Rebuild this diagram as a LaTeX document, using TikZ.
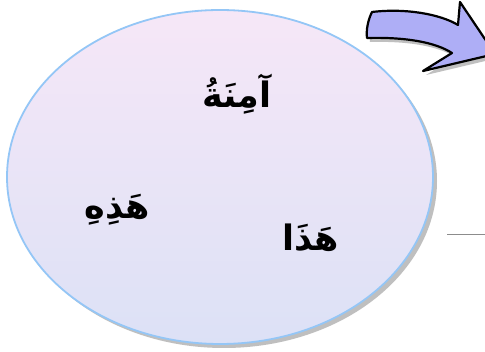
\documentclass[tikz,border=0pt]{standalone}
\usepackage{fontspec}
\usetikzlibrary{shapes.geometric}
\TeXXeTstate=1
\newfontfamily\arabicfont[Script=Arabic]{DejaVu Sans}
\definecolor{ellTop}{HTML}{F6E7F7}
\definecolor{ellBot}{HTML}{DCE1F6}
\definecolor{ellLine}{HTML}{94C6F6}
\definecolor{arrFill}{HTML}{AEAEF6}
\tikzset{
  word/.style={font=\arabicfont\bfseries\fontsize{35}{40}\selectfont, inner sep=0pt},
  blob/.style={top color=ellTop, bottom color=ellBot, draw=ellLine, line width=1.8pt},
}
\begin{document}
\begin{tikzpicture}[x=1pt,y=-1pt]
\useasboundingbox (0,0) rectangle (485,352);
\fill[white] (0,0) rectangle (485,352);
% shadow of ellipse
\fill[black!25] (224,181) ellipse [x radius=213, y radius=167];
\node[blob, ellipse, minimum width=426pt, minimum height=334pt] (E) at (220,177) {};
% words
\node[word] (w1) at (237,94) {\beginR آمِنَةُ\endR};
\node[word] (w2) at (117,210) {\beginR هَذِهِ\endR};
\node[word] (w3) at (311,238) {\beginR هَذَا\endR};
% line at right
\coordinate (l1) at (447,234);
\coordinate (l2) at (485,234);
\draw[black!45, line width=0.8pt] (l1) -- (l2);
% arrow
\begin{scope}
\clip (0,0) rectangle (485,352);
\fill[black!35, opacity=0.7, shift={(3,4)}]
  (372,12) .. controls (405,8) and (440,14) .. (458,25)
  -- (460,2) -- (495,54) -- (423,71) -- (452,53)
  .. controls (435,42) and (405,37) .. (367,38)
  .. controls (366,30) and (368,20) .. (372,12) -- cycle;
\draw[fill=arrFill, line width=2.2pt, line join=round]
  (372,12) .. controls (405,8) and (440,14) .. (458,25)
  -- (460,2) -- (495,54) -- (423,71) -- (452,53)
  .. controls (435,42) and (405,37) .. (367,38)
  .. controls (366,30) and (368,20) .. (372,12) -- cycle;
\end{scope}
\end{tikzpicture}
\end{document}
